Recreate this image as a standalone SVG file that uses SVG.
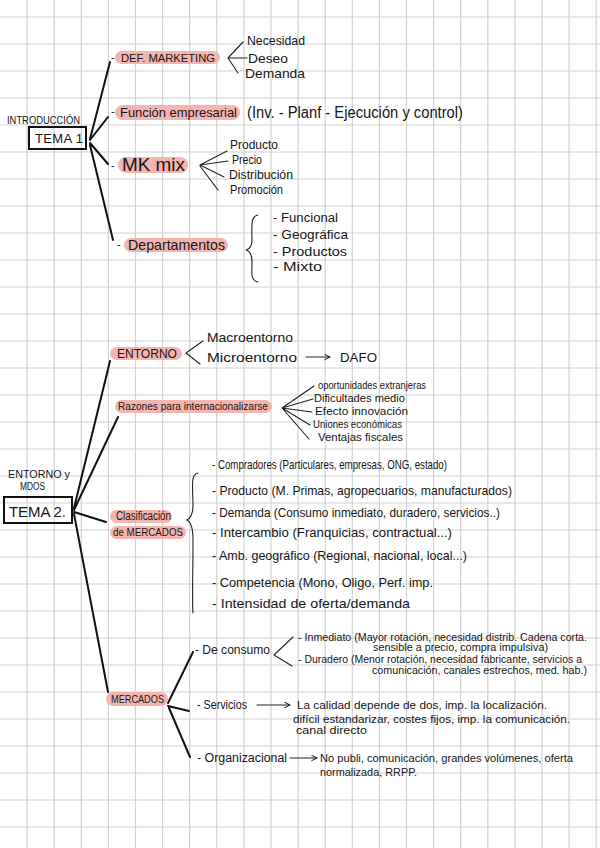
<svg xmlns="http://www.w3.org/2000/svg" width="600" height="848" viewBox="0 0 600 848">
<defs>
<style>
.grid{stroke:#d2d2d2;stroke-width:1.2;fill:none}
.t{font-family:"Liberation Sans",Arial,sans-serif;fill:#161616}
.pill{fill:#f5b4af}
.box{fill:none;stroke:#111;stroke-width:2}
.c{stroke:#111;stroke-width:2;fill:none;stroke-linecap:round}
.f{stroke:#222;stroke-width:1.1;fill:none;stroke-linecap:round}
</style>
<marker id="ah" viewBox="0 0 10 10" refX="9" refY="5" markerWidth="7" markerHeight="7" orient="auto" markerUnits="userSpaceOnUse">
<path d="M1,1 L9,5 L1,9" fill="none" stroke="#111" stroke-width="1.4"/>
</marker>
</defs>
<rect width="600" height="848" fill="#ffffff"/>
<path class="grid" d="M27.1,0V848M54.2,0V848M81.3,0V848M108.4,0V848M135.5,0V848M162.6,0V848M189.7,0V848M216.8,0V848M243.9,0V848M271,0V848M298.1,0V848M325.2,0V848M352.3,0V848M379.4,0V848M406.5,0V848M433.6,0V848M460.7,0V848M487.8,0V848M514.9,0V848M542,0V848M569.1,0V848M596.2,0V848M0,17H600M0,44H600M0,71H600M0,98H600M0,125H600M0,152H600M0,179H600M0,206H600M0,233H600M0,260H600M0,287H600M0,314H600M0,341H600M0,368H600M0,395H600M0,422H600M0,449H600M0,476H600M0,503H600M0,530H600M0,557H600M0,584H600M0,611H600M0,638H600M0,665H600M0,692H600M0,719H600M0,746H600M0,773H600M0,800H600M0,827H600"/>

<g id="connectors">
<path class="c" d="M90,139 L110,62 M90,140 L108,117 M90,143 L108,164 M90,145 L113,240"/>
<path class="f" d="M228,58 L243,42 M228,58 L247,58 M228,58 L238,73"/>
<path class="f" d="M200,165 L227,151 M200,165 L228,161 M200,165 L224,177 M200,166 L218,190"/>
<path class="f" d="M258,215 C250,216 252,228 252,240 C252,246 250,249 246,250 C250,251 252,255 252,262 C252,272 250,281 258,282"/>
<path class="c" d="M74,508 L110,361 M74,510 L118,417 M74,512 L106,522 M74,514 L108,692"/>
<path class="f" d="M186,353 L203,341 M186,353 L200,364"/>
<path class="f" d="M306,357 L330,357" marker-end="url(#ah)"/>
<path class="f" d="M282,408 L314,386 M282,408 L313,399 M282,408 L312,412 M282,408 L310,425 M282,408 L309,439"/>
<path class="f" d="M198,473 C190,474 193,490 193,505 C193,514 191,518 187,520 C191,522 193,527 193,540 C193,570 192,606 193,613"/>
<path class="c" d="M168,703 L193,652 M168,706 L189,711 M169,708 L190,757"/>
<path class="f" d="M274,655 L293,637 M274,655 L292,666"/>
<path class="f" d="M257,705 L290,705" marker-end="url(#ah)"/>
<path class="f" d="M290,758 L317,758" marker-end="url(#ah)"/>
</g>

<g id="tema1">
<text class="t" x="7" y="124" font-size="10" textLength="73" lengthAdjust="spacingAndGlyphs">INTRODUCCIÓN</text>
<rect class="box" x="29" y="127" width="57" height="22"/>
<text class="t" x="35" y="143" font-size="13" textLength="48" lengthAdjust="spacing">TEMA 1</text>
</g>

<g id="def-marketing">
<text class="t" x="111" y="61" font-size="11">-</text>
<rect class="pill" x="115" y="51" width="105" height="13" rx="6.5"/>
<text class="t" x="121" y="62" font-size="11.5" textLength="94" lengthAdjust="spacingAndGlyphs">DEF. MARKETING</text>
</g>
<g id="necesidad"><text class="t" x="247" y="45" font-size="13" textLength="58" lengthAdjust="spacingAndGlyphs">Necesidad</text></g>
<g id="deseo"><text class="t" x="248" y="63" font-size="13" textLength="40" lengthAdjust="spacingAndGlyphs">Deseo</text></g>
<g id="demanda"><text class="t" x="245" y="78" font-size="13" textLength="60" lengthAdjust="spacingAndGlyphs">Demanda</text></g>

<g id="funcion">
<text class="t" x="111" y="115" font-size="11">-</text>
<rect class="pill" x="115" y="105" width="125" height="15" rx="7.5"/>
<text class="t" x="120" y="117" font-size="13" textLength="117" lengthAdjust="spacingAndGlyphs">Función empresarial</text>
<text class="t" x="247" y="118" font-size="16" textLength="216" lengthAdjust="spacingAndGlyphs">(Inv. - Planf - Ejecución y control)</text>
</g>

<g id="mk-mix">
<text class="t" x="111" y="169" font-size="11">-</text>
<rect class="pill" x="118" y="157" width="70" height="16" rx="8"/>
<text class="t" x="122" y="171" font-size="18" textLength="63" lengthAdjust="spacingAndGlyphs">MK mix</text>
</g>
<g id="producto"><text class="t" x="230" y="149" font-size="12" textLength="48" lengthAdjust="spacingAndGlyphs">Producto</text></g>
<g id="precio"><text class="t" x="232" y="164" font-size="12" textLength="30" lengthAdjust="spacingAndGlyphs">Precio</text></g>
<g id="distribucion"><text class="t" x="229" y="179" font-size="12" textLength="64" lengthAdjust="spacingAndGlyphs">Distribución</text></g>
<g id="promocion"><text class="t" x="230" y="194" font-size="12" textLength="53" lengthAdjust="spacingAndGlyphs">Promoción</text></g>

<g id="departamentos">
<text class="t" x="117" y="248" font-size="11">-</text>
<rect class="pill" x="124" y="238" width="104" height="14" rx="7"/>
<text class="t" x="128" y="250" font-size="15" textLength="97" lengthAdjust="spacingAndGlyphs">Departamentos</text>
</g>
<g id="funcional"><text class="t" x="273" y="222" font-size="12" textLength="65" lengthAdjust="spacingAndGlyphs">- Funcional</text></g>
<g id="geografica"><text class="t" x="273" y="239" font-size="12" textLength="75" lengthAdjust="spacingAndGlyphs">- Geográfica</text></g>
<g id="productos"><text class="t" x="273" y="256" font-size="12" textLength="74" lengthAdjust="spacingAndGlyphs">- Productos</text></g>
<g id="mixto"><text class="t" x="273" y="271" font-size="12" textLength="49" lengthAdjust="spacingAndGlyphs">- Mixto</text></g>

<g id="entorno">
<rect class="pill" x="110" y="347" width="72" height="13" rx="6.5"/>
<text class="t" x="117" y="358" font-size="12" textLength="60" lengthAdjust="spacingAndGlyphs">ENTORNO</text>
</g>
<g id="macroentorno"><text class="t" x="207" y="342" font-size="13" textLength="86" lengthAdjust="spacingAndGlyphs">Macroentorno</text></g>
<g id="microentorno"><text class="t" x="207" y="362" font-size="13" textLength="90" lengthAdjust="spacingAndGlyphs">Microentorno</text></g>
<g id="dafo"><text class="t" x="340" y="362" font-size="13" textLength="37" lengthAdjust="spacingAndGlyphs">DAFO</text></g>

<g id="razones">
<rect class="pill" x="115" y="400" width="157" height="13" rx="6.5"/>
<text class="t" x="118" y="410" font-size="11" textLength="150" lengthAdjust="spacingAndGlyphs">Razones para internacionalizarse</text>
</g>
<g id="oportunidades"><text class="t" x="318" y="389" font-size="10" textLength="108" lengthAdjust="spacingAndGlyphs">oportunidades extranjeras</text></g>
<g id="dificultades"><text class="t" x="314" y="402" font-size="10" textLength="91" lengthAdjust="spacingAndGlyphs">Dificultades medio</text></g>
<g id="efecto"><text class="t" x="315" y="415" font-size="10" textLength="93" lengthAdjust="spacingAndGlyphs">Efecto innovación</text></g>
<g id="uniones"><text class="t" x="313" y="428" font-size="10" textLength="89" lengthAdjust="spacingAndGlyphs">Uniones económicas</text></g>
<g id="ventajas"><text class="t" x="318" y="441" font-size="10" textLength="85" lengthAdjust="spacingAndGlyphs">Ventajas fiscales</text></g>

<g id="tema2">
<text class="t" x="8" y="478" font-size="10" textLength="62" lengthAdjust="spacingAndGlyphs">ENTORNO y</text>
<text class="t" x="20" y="490" font-size="10" textLength="25" lengthAdjust="spacingAndGlyphs">MDOS</text>
<rect class="box" x="4" y="497" width="68" height="26"/>
<text class="t" x="9" y="517" font-size="15" textLength="57" lengthAdjust="spacing">TEMA 2.</text>
</g>

<g id="clasificacion">
<rect class="pill" x="110" y="510" width="62" height="13" rx="6.5"/>
<text class="t" x="116" y="520" font-size="12" textLength="55" lengthAdjust="spacingAndGlyphs">Clasificación</text>
<rect class="pill" x="110" y="526" width="76" height="13" rx="6.5"/>
<text class="t" x="113" y="536" font-size="11" textLength="70" lengthAdjust="spacingAndGlyphs">de MERCADOS</text>
</g>
<g id="compradores"><text class="t" x="212" y="469" font-size="13" textLength="235" lengthAdjust="spacingAndGlyphs">- Compradores (Particulares, empresas, ONG, estado)</text></g>
<g id="producto2"><text class="t" x="212" y="495" font-size="13" textLength="300" lengthAdjust="spacingAndGlyphs">- Producto (M. Primas, agropecuarios, manufacturados)</text></g>
<g id="demanda2"><text class="t" x="212" y="517" font-size="13" textLength="288" lengthAdjust="spacingAndGlyphs">- Demanda (Consumo inmediato, duradero, servicios..)</text></g>
<g id="intercambio"><text class="t" x="212" y="537" font-size="13" textLength="240" lengthAdjust="spacingAndGlyphs">- Intercambio (Franquicias, contractual...)</text></g>
<g id="ambito"><text class="t" x="212" y="560" font-size="13" textLength="255" lengthAdjust="spacingAndGlyphs">- Amb. geográfico (Regional, nacional, local...)</text></g>
<g id="competencia"><text class="t" x="212" y="587" font-size="13" textLength="221" lengthAdjust="spacingAndGlyphs">- Competencia (Mono, Oligo, Perf. imp.</text></g>
<g id="intensidad"><text class="t" x="212" y="608" font-size="13" textLength="198" lengthAdjust="spacingAndGlyphs">- Intensidad de oferta/demanda</text></g>

<g id="mercados">
<rect class="pill" x="106" y="692" width="62" height="14" rx="7"/>
<text class="t" x="111" y="703" font-size="11" textLength="53" lengthAdjust="spacingAndGlyphs">MERCADOS</text>
</g>
<g id="de-consumo"><text class="t" x="195" y="654" font-size="12" textLength="75" lengthAdjust="spacingAndGlyphs">- De consumo</text></g>
<g id="inmediato">
<text class="t" x="298" y="641" font-size="10" textLength="289" lengthAdjust="spacingAndGlyphs">- Inmediato (Mayor rotación, necesidad distrib. Cadena corta.</text>
<text class="t" x="373" y="651" font-size="10" textLength="175" lengthAdjust="spacingAndGlyphs">sensible a precio, compra impulsiva)</text>
</g>
<g id="duradero">
<text class="t" x="298" y="663" font-size="10" textLength="284" lengthAdjust="spacingAndGlyphs">- Duradero (Menor rotación, necesidad fabricante, servicios a</text>
<text class="t" x="372" y="674" font-size="10" textLength="215" lengthAdjust="spacingAndGlyphs">comunicación, canales estrechos, med. hab.)</text>
</g>
<g id="servicios"><text class="t" x="197" y="709" font-size="12" textLength="50" lengthAdjust="spacingAndGlyphs">- Servicios</text></g>
<g id="servicios-desc">
<text class="t" x="297" y="709" font-size="11.5" textLength="250" lengthAdjust="spacingAndGlyphs">La calidad depende de dos, imp. la localización.</text>
<text class="t" x="293" y="723" font-size="11" textLength="277" lengthAdjust="spacingAndGlyphs">difícil estandarizar, costes fijos, imp. la comunicación.</text>
<text class="t" x="296" y="734" font-size="11" textLength="71" lengthAdjust="spacingAndGlyphs">canal directo</text>
</g>
<g id="organizacional"><text class="t" x="197" y="762" font-size="12" textLength="90" lengthAdjust="spacingAndGlyphs">- Organizacional</text></g>
<g id="organizacional-desc">
<text class="t" x="320" y="762" font-size="11.5" textLength="253" lengthAdjust="spacingAndGlyphs">No publi, comunicación, grandes volúmenes, oferta</text>
<text class="t" x="320" y="776" font-size="11" textLength="97" lengthAdjust="spacingAndGlyphs">normalizada, RRPP.</text>
</g>
</svg>
